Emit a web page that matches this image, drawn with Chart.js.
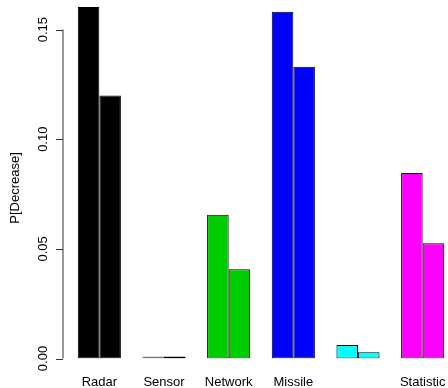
<!DOCTYPE html>
<html>
<head>
<meta charset="utf-8">
<script src="https://cdn.jsdelivr.net/npm/chart.js@4/dist/chart.umd.min.js"></script>
<style>
    html, body { margin: 0; padding: 0; background: #fff; overflow: hidden; }
    #wrap { width: 448px; height: 388px; overflow: hidden; }
</style>
</head>
<body>
<div id="wrap"><canvas id="chart" width="460" height="388"></canvas></div>
<script>
// data
const categories = ['Radar', 'Sensor', 'Network', 'Missile', '', 'Statistic']
const firstBar = [0.1603, 0.0000, 0.0655, 0.1581, 0.0062, 0.0846]
const secondBar = [0.1199, 0.0003, 0.0407, 0.1330, 0.0028, 0.0526]
const groupColors = ['#000000', '#FF0000', '#00CD00', '#0000FF', '#00FFFF', '#FF00FF']
const yTicks = [0, 0.05, 0.10, 0.15]
const yTickLabels = ['0.00', '0.05', '0.10', '0.15']
const yTitle = 'P[Decrease]'

const font = '13px "Liberation Sans", Arial, sans-serif'

// R style axes drawn by hand from the chart scales
const rAxes = {
    id: 'rAxes',
    afterDraw(chart) {
        const ctx = chart.ctx
        const y = chart.scales.y
        const x = chart.scales.x
        const axisX = 63
        ctx.save()
        ctx.strokeStyle = '#333'
        ctx.lineWidth = 1
        ctx.beginPath()
        ctx.moveTo(axisX, y.getPixelForValue(yTicks[0]))
        ctx.lineTo(axisX, y.getPixelForValue(yTicks[yTicks.length - 1]))
        yTicks.forEach(t => {
            const py = Math.round(y.getPixelForValue(t)) + 0.5
            ctx.moveTo(axisX, py)
            ctx.lineTo(axisX - 7, py)
        })
        ctx.stroke()

        ctx.fillStyle = '#000'
        ctx.font = font
        ctx.textAlign = 'center'
        ctx.textBaseline = 'middle'
        yTicks.forEach((t, i) => {
            ctx.save()
            ctx.translate(43, y.getPixelForValue(t))
            ctx.rotate(-Math.PI / 2)
            ctx.fillText(yTickLabels[i], 0, 0)
            ctx.restore()
        })

        ctx.save()
        ctx.translate(15, 188)
        ctx.rotate(-Math.PI / 2)
        ctx.fillText(yTitle, 0, 0)
        ctx.restore()

        categories.forEach((c, i) => {
            ctx.fillText(c, x.getPixelForValue(i), 382)
        })
        ctx.restore()
    }
}

new Chart(document.getElementById('chart'), {
    type: 'bar',
    data: {
        labels: categories,
        datasets: [
            {
                data: firstBar,
                backgroundColor: groupColors,
                borderColor: ['#000', '#777', '#000', '#000', '#000', '#000'],
                borderWidth: 1,
                borderSkipped: false,
                minBarLength: 2,
                barPercentage: 1,
                categoryPercentage: 0.667
            }, {
                data: secondBar,
                backgroundColor: groupColors,
                borderColor: '#000',
                borderWidth: 1,
                borderSkipped: false,
                minBarLength: 2,
                barPercentage: 1,
                categoryPercentage: 0.667
            }
        ]
    },
    options: {
        responsive: false,
        animation: false,
        layout: { padding: { left: 67, right: 5, top: 7, bottom: 29.5 } },
        plugins: { legend: { display: false }, tooltip: { enabled: false } },
        scales: {
            x: { display: false },
            y: { display: false, min: 0, max: 0.1603 }
        }
    },
    plugins: [rAxes]
})
</script>
</body>
</html>
